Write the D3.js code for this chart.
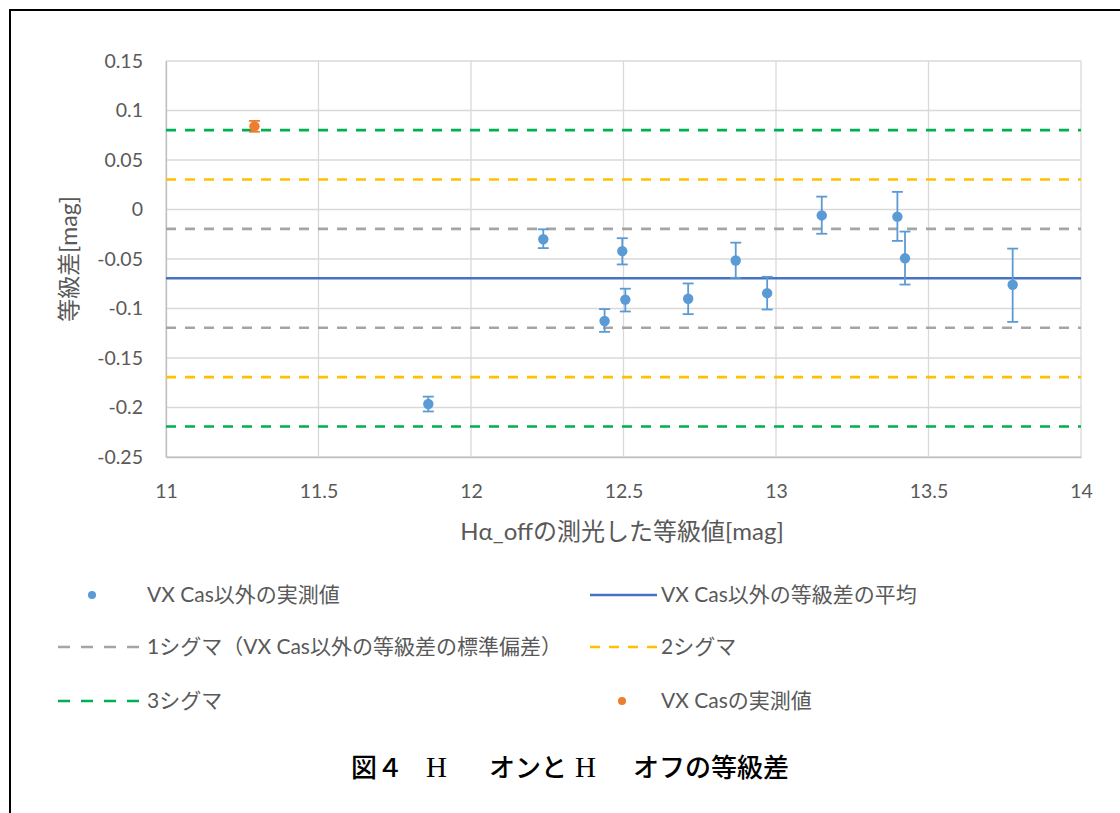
<!DOCTYPE html>
<html>
<head>
<meta charset="utf-8">
<script src="https://cdn.jsdelivr.net/npm/d3@7"></script>
<style>
  html, body { margin: 0; padding: 0; background: #fff; }
  svg { display: block; font-family: Lato, "Noto Sans CJK JP", sans-serif; }
</style>
</head>
<body>
<svg id="chart" width="1120" height="813"></svg>
<script>
// Stars other than VX Cas: Hα_off magnitude, magnitude difference, error bar half-widths
const starMag   = [11.860, 12.237, 12.438, 12.496, 12.506, 12.712, 12.868, 12.971, 13.150, 13.398, 13.423, 13.776];
const starDiff  = [-0.1965, -0.0300, -0.1126, -0.0420, -0.0910, -0.0902, -0.0515, -0.0845, -0.0060, -0.0072, -0.0493, -0.0760];
const starErrUp = [0.0075, 0.0100, 0.0120, 0.0130, 0.0110, 0.0155, 0.0180, 0.0165, 0.0190, 0.0250, 0.0270, 0.0365];
const starErrDn = [0.0075, 0.0090, 0.0110, 0.0135, 0.0120, 0.0155, 0.0175, 0.0165, 0.0185, 0.0245, 0.0265, 0.0375];

// VX Cas itself
const vxMag   = [11.290];
const vxDiff  = [0.0840];
const vxErr   = [0.0055];

// Mean of the comparison stars and their standard deviation
const meanDiff = -0.0695;
const sigma    = 0.0499;

const xTicks = [11, 11.5, 12, 12.5, 13, 13.5, 14];
const yTicks = [0.15, 0.1, 0.05, 0, -0.05, -0.1, -0.15, -0.2, -0.25];

const legendLabels = [
  "VX Cas以外の実測値",
  "VX Cas以外の等級差の平均",
  "1シグマ（VX Cas以外の等級差の標準偏差）",
  "2シグマ",
  "3シグマ",
  "VX Casの実測値"
];

const colors = {
  star: "#5B9BD5",
  mean: "#4472C4",
  s1: "#A5A5A5",
  s2: "#FFC000",
  s3: "#00B050",
  vx: "#ED7D31",
  grid: "#D9D9D9",
  tick: "#595959"
};

const svg = d3.select("#chart");

// Outer frame (top and left edges)
svg.append("path")
  .attr("d", "M10,813 L10,10 L1120,10")
  .attr("fill", "none").attr("stroke", "#000").attr("stroke-width", 2);

const plot = { left: 166, right: 1081, top: 61, bottom: 457 };
const x = d3.scaleLinear().domain([11, 14]).range([plot.left, plot.right]);
const y = d3.scaleLinear().domain([-0.25, 0.15]).range([plot.bottom, plot.top]);

// Grid lines
const grid = svg.append("g");
grid.selectAll(".gx").data(xTicks).join("line")
  .attr("x1", d => x(d)).attr("x2", d => x(d))
  .attr("y1", plot.top).attr("y2", plot.bottom)
  .attr("stroke", colors.grid).attr("stroke-width", 1.3);
grid.selectAll(".gy").data(yTicks).join("line")
  .attr("x1", plot.left).attr("x2", plot.right)
  .attr("y1", d => y(d)).attr("y2", d => y(d))
  .attr("stroke", colors.grid).attr("stroke-width", 1.3);

// Plain hyphen-minus for negative tick labels
const tickFmt = d => String(+d.toFixed(2));

const xAxis = d3.axisBottom(x).tickValues(xTicks).tickSize(0).tickPadding(27).tickFormat(tickFmt);
const gx = svg.append("g").attr("transform", `translate(0,${plot.bottom})`).call(xAxis);
gx.select(".domain").attr("stroke", "#BFBFBF").attr("stroke-width", 1.3);
gx.selectAll("text").attr("fill", colors.tick).style("font-size", "19.5px")
  .style("font-family", "Lato, sans-serif");

const yAxis = d3.axisLeft(y).tickValues(yTicks).tickSize(0).tickPadding(23).tickFormat(tickFmt);
const gy = svg.append("g").attr("transform", `translate(${plot.left},0)`).call(yAxis);
gy.select(".domain").attr("stroke", "#BFBFBF").attr("stroke-width", 1.3);
gy.selectAll("text").attr("fill", colors.tick).style("font-size", "19.5px")
  .style("font-family", "Lato, sans-serif");

// Axis titles
svg.append("text")
  .attr("x", 622).attr("y", 540)
  .attr("text-anchor", "middle").attr("fill", colors.tick).style("font-size", "24px")
  .text("Hα_offの測光した等級値[mag]");
svg.append("text")
  .attr("transform", `translate(77,${(plot.top + plot.bottom) / 2}) rotate(-90)`)
  .attr("text-anchor", "middle").attr("fill", colors.tick).style("font-size", "23px")
  .text("等級差[mag]");

// Reference lines: mean and ±1σ, ±2σ, ±3σ
const refLines = [
  { v: meanDiff, c: colors.mean, dash: null },
  { v: meanDiff + sigma, c: colors.s1, dash: "10,9" },
  { v: meanDiff - sigma, c: colors.s1, dash: "10,9" },
  { v: meanDiff + 2 * sigma, c: colors.s2, dash: "10,9" },
  { v: meanDiff - 2 * sigma, c: colors.s2, dash: "10,9" },
  { v: meanDiff + 3 * sigma, c: colors.s3, dash: "10,9" },
  { v: meanDiff - 3 * sigma, c: colors.s3, dash: "10,9" }
];
svg.append("g").selectAll("line").data(refLines).join("line")
  .attr("x1", plot.left).attr("x2", plot.right)
  .attr("y1", d => y(d.v)).attr("y2", d => y(d.v))
  .attr("stroke", d => d.c).attr("stroke-width", 2.6)
  .attr("stroke-dasharray", d => d.dash);

// Error bars and markers
function drawSeries(mags, diffs, up, dn, color) {
  const g = svg.append("g");
  const pts = mags.map((m, i) => ({ m, d: diffs[i], u: up[i], l: dn[i] }));
  g.selectAll(".eb").data(pts).join("line")
    .attr("x1", p => x(p.m)).attr("x2", p => x(p.m))
    .attr("y1", p => y(p.d + p.u)).attr("y2", p => y(p.d - p.l))
    .attr("stroke", color).attr("stroke-width", 1.8);
  g.selectAll(".ct").data(pts).join("line")
    .attr("x1", p => x(p.m) - 5.5).attr("x2", p => x(p.m) + 5.5)
    .attr("y1", p => y(p.d + p.u)).attr("y2", p => y(p.d + p.u))
    .attr("stroke", color).attr("stroke-width", 1.8);
  g.selectAll(".cb").data(pts).join("line")
    .attr("x1", p => x(p.m) - 5.5).attr("x2", p => x(p.m) + 5.5)
    .attr("y1", p => y(p.d - p.l)).attr("y2", p => y(p.d - p.l))
    .attr("stroke", color).attr("stroke-width", 1.8);
  g.selectAll("circle").data(pts).join("circle")
    .attr("cx", p => x(p.m)).attr("cy", p => y(p.d)).attr("r", 5.2)
    .attr("fill", color);
}
drawSeries(starMag, starDiff, starErrUp, starErrDn, colors.star);
drawSeries(vxMag, vxDiff, vxErr, vxErr, colors.vx);

// Legend: two columns, three rows
const legendItems = [
  { label: legendLabels[0], kind: "dot", c: colors.star, col: 0, row: 0 },
  { label: legendLabels[1], kind: "solid", c: colors.mean, col: 1, row: 0 },
  { label: legendLabels[2], kind: "dash", c: colors.s1, col: 0, row: 1 },
  { label: legendLabels[3], kind: "dash", c: colors.s2, col: 1, row: 1 },
  { label: legendLabels[4], kind: "dash", c: colors.s3, col: 0, row: 2 },
  { label: legendLabels[5], kind: "dot", c: colors.vx, col: 1, row: 2 }
];
const legendCols = [
  { x: 58, keyW: 85, dash: "12,11", dot: 34 },
  { x: 590, keyW: 67, dash: "10,9", dot: 32 }
];
const rowY = [595, 647, 701];
const leg = svg.append("g");
legendItems.forEach(it => {
  const col = legendCols[it.col], x0 = col.x, y0 = rowY[it.row];
  if (it.kind === "dot") {
    leg.append("circle").attr("cx", x0 + col.dot).attr("cy", y0).attr("r", 4).attr("fill", it.c);
  } else {
    leg.append("line").attr("x1", x0).attr("x2", x0 + col.keyW).attr("y1", y0).attr("y2", y0)
      .attr("stroke", it.c).attr("stroke-width", 2.6)
      .attr("stroke-dasharray", it.kind === "dash" ? col.dash : null);
  }
  leg.append("text").attr("x", x0 + col.keyW + 4).attr("y", y0 + 7)
    .style("font-size", "21px").attr("fill", colors.tick).text(it.label);
});

// Figure caption
const capParts = [
  { t: "図４", x: 351, serif: false },
  { t: "H", x: 426, serif: true },
  { t: "オンと", x: 489, serif: false },
  { t: "H", x: 575, serif: true },
  { t: "オフの等級差", x: 633, serif: false }
];
svg.append("g").selectAll("text").data(capParts).join("text")
  .attr("x", d => d.x).attr("y", 777).attr("fill", "#000")
  .style("font-size", d => d.serif ? "29px" : "26px")
  .style("font-family", d => d.serif ? "'Liberation Serif', serif" : "'Noto Sans CJK JP', sans-serif")
  .style("font-weight", d => d.serif ? 400 : 500)
  .text(d => d.t);
</script>
</body>
</html>
